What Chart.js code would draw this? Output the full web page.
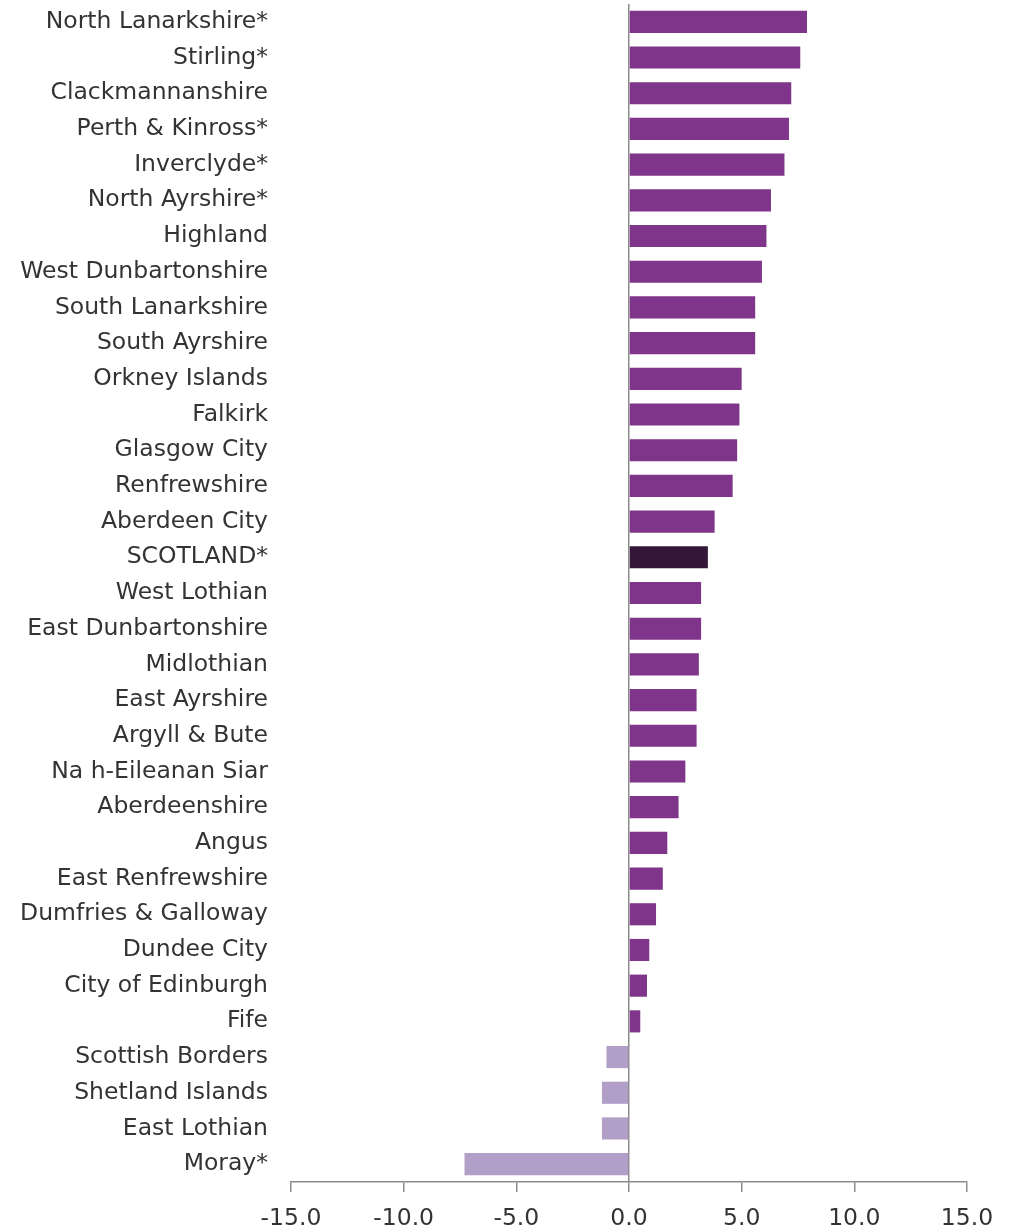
<!DOCTYPE html>
<html>
<head>
<meta charset="utf-8">
<script src="https://cdn.jsdelivr.net/npm/chart.js@4/dist/chart.umd.min.js"></script>
<style>
  html, body { margin: 0; padding: 0; background: #fff; }
  #wrap { width: 1016px; height: 1227px; }
</style>
</head>
<body>
<div id="wrap"><canvas id="chart" width="1016" height="1227"></canvas></div>
<script>
// council areas, top to bottom
const areas = [
  'North Lanarkshire*', 'Stirling*', 'Clackmannanshire', 'Perth & Kinross*', 'Inverclyde*',
  'North Ayrshire*', 'Highland', 'West Dunbartonshire', 'South Lanarkshire', 'South Ayrshire',
  'Orkney Islands', 'Falkirk', 'Glasgow City', 'Renfrewshire', 'Aberdeen City',
  'SCOTLAND*', 'West Lothian', 'East Dunbartonshire', 'Midlothian', 'East Ayrshire',
  'Argyll & Bute', 'Na h-Eileanan Siar', 'Aberdeenshire', 'Angus', 'East Renfrewshire',
  'Dumfries & Galloway', 'Dundee City', 'City of Edinburgh', 'Fife', 'Scottish Borders',
  'Shetland Islands', 'East Lothian', 'Moray*'
];

// % change
const change = [
  7.9, 7.6, 7.2, 7.1, 6.9,
  6.3, 6.1, 5.9, 5.6, 5.6,
  5.0, 4.9, 4.8, 4.6, 3.8,
  3.5, 3.2, 3.2, 3.1, 3.0,
  3.0, 2.5, 2.2, 1.7, 1.5,
  1.2, 0.9, 0.8, 0.5, -1.0,
  -1.2, -1.2, -7.3
];

const xTicks = [-15, -10, -5, 0, 5, 10, 15];

const purple = '#7f3589';
const dark = '#35173a';
const lilac = '#b19fc8';

function barColour(ctx) {
  const i = ctx.dataIndex;
  if (areas[i] === 'SCOTLAND*') return dark;
  return change[i] < 0 ? lilac : purple;
}

const labelFont = { family: "'DejaVu Sans', Verdana, sans-serif", size: 23.5 };

new Chart(document.getElementById('chart'), {
  type: 'bar',
  data: {
    labels: areas,
    datasets: [{
      data: change,
      backgroundColor: barColour,
      borderWidth: 0,
      barPercentage: 0.62,
      categoryPercentage: 1
    }]
  },
  options: {
    indexAxis: 'y',
    responsive: false,
    animation: false,
    layout: { padding: { top: 4, right: 49, left: 0, bottom: 0 } },
    plugins: { legend: { display: false }, tooltip: { enabled: false } },
    scales: {
      x: {
        min: -15,
        max: 15,
        afterBuildTicks: (s) => { s.ticks = xTicks.map(v => ({ value: v })); },
        afterFit: (s) => { s.height = 45; },
        border: { display: true, color: '#8c8c8c', width: 1.5 },
        grid: {
          color: (c) => (c.tick && c.tick.value === 0) ? '#8c8c8c' : 'transparent',
          lineWidth: 1.5,
          tickColor: '#8c8c8c',
          tickLength: 10,
          drawTicks: true
        },
        ticks: {
          color: '#333',
          font: labelFont,
          padding: 13,
          maxRotation: 0,
          callback: (v) => Number(v).toFixed(1)
        }
      },
      y: {
        afterFit: (s) => { s.width = 291; s.paddingTop = 0; s.paddingBottom = 0; },
        border: { display: false },
        grid: { display: false },
        ticks: {
          color: '#333',
          font: labelFont,
          padding: 15,
          autoSkip: false
        }
      }
    }
  }
});
</script>
</body>
</html>
